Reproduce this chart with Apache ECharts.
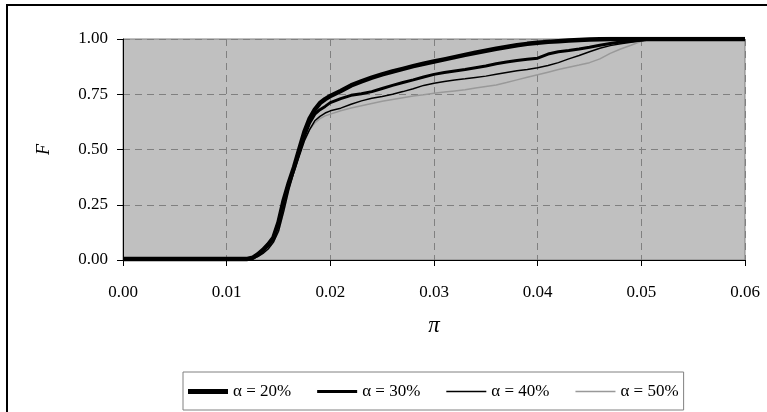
<!DOCTYPE html>
<html>
<head>
<meta charset="utf-8">
<script src="https://cdn.jsdelivr.net/npm/echarts@6/dist/echarts.min.js"></script>
<style>
  html, body { margin: 0; padding: 0; background: #fff; }
  #main { width: 767px; height: 412px; }
</style>
</head>
<body>
<div id="main"></div>
<script>
// pi values (x) shared by all curves
var pi = [0, 0.012, 0.0125, 0.013, 0.0135, 0.014, 0.0145, 0.015, 0.0155, 0.016, 0.0165, 0.017, 0.0175, 0.018, 0.0185, 0.019, 0.0195,
  0.020, 0.021, 0.022, 0.023, 0.024, 0.025, 0.026, 0.027, 0.028, 0.029,
  0.030, 0.031, 0.032, 0.033, 0.034, 0.035, 0.036, 0.037, 0.038, 0.039,
  0.040, 0.041, 0.042, 0.043, 0.044, 0.045, 0.046, 0.047, 0.048, 0.049,
  0.050, 0.051, 0.060]

var f20 = [0.005, 0.005, 0.01, 0.025, 0.045, 0.07, 0.10, 0.17, 0.27, 0.35, 0.42, 0.50, 0.58, 0.64, 0.68, 0.71, 0.728,
  0.742, 0.765, 0.79, 0.808, 0.825, 0.84, 0.853, 0.865, 0.877, 0.888,
  0.898, 0.908, 0.918, 0.928, 0.938, 0.947, 0.956, 0.964, 0.972, 0.978,
  0.983, 0.987, 0.99, 0.993, 0.996, 0.998, 0.999, 1, 1, 1,
  1, 1, 1]
var f30 = [0.005, 0.005, 0.01, 0.025, 0.045, 0.07, 0.10, 0.17, 0.27, 0.35, 0.42, 0.49, 0.56, 0.62, 0.66, 0.68, 0.695,
  0.712, 0.73, 0.745, 0.752, 0.762, 0.776, 0.79, 0.803, 0.815, 0.828,
  0.84, 0.848, 0.855, 0.862, 0.87, 0.878, 0.888, 0.896, 0.903, 0.908,
  0.913, 0.932, 0.942, 0.948, 0.955, 0.963, 0.972, 0.98, 0.986, 0.991,
  0.996, 1, 1]
var f40 = [0.005, 0.005, 0.005, 0.015, 0.03, 0.05, 0.08, 0.13, 0.22, 0.32, 0.40, 0.47, 0.54, 0.59, 0.63, 0.65, 0.665,
  0.675, 0.687, 0.705, 0.72, 0.732, 0.74, 0.75, 0.762, 0.775, 0.79,
  0.8, 0.808, 0.815, 0.82, 0.826, 0.832, 0.84, 0.848, 0.856, 0.862,
  0.87, 0.88, 0.893, 0.91, 0.925, 0.942, 0.958, 0.97, 0.978, 0.985,
  0.992, 1, 1]
var f50 = [0.005, 0.005, 0.005, 0.015, 0.03, 0.05, 0.08, 0.13, 0.22, 0.32, 0.40, 0.47, 0.54, 0.59, 0.62, 0.64, 0.652,
  0.66, 0.675, 0.688, 0.698, 0.708, 0.718, 0.726, 0.734, 0.742, 0.748,
  0.755, 0.76, 0.765, 0.77, 0.778, 0.785, 0.792, 0.803, 0.815, 0.827,
  0.838, 0.85, 0.862, 0.872, 0.882, 0.893, 0.91, 0.935, 0.955, 0.972,
  0.99, 1, 1]

var names = ['α = 20%', 'α = 30%', 'α = 40%', 'α = 50%']
var curves = [f20, f30, f40, f50]
var widths = [4.5, 3, 1.5, 1.5]
var colors = ['#000', '#000', '#000', '#999']

var serif = '"Liberation Serif", "DejaVu Serif", serif'

function pairs (ys) {
  return pi.map(function (x, i) { return [x, ys[i]] })
}

// legend icon: a bar of thickness t centred in a 40x14 box
function lineIcon (t) {
  var a = 7 - t / 2
  var b = 7 + t / 2
  return 'path://M0,0L0.01,0L0,0.01Z M0,' + a + 'L40,' + a + 'L40,' + b + 'L0,' + b + 'Z M40,14L39.99,14L40,13.99Z'
}

var myChart = echarts.init(document.getElementById('main'), null, { renderer: 'canvas' })

myChart.setOption({
  animation: false,
  backgroundColor: '#fff',
  graphic: [{
    type: 'rect',
    shape: { x: 7, y: 5, width: 800, height: 440 },
    style: { fill: 'none', stroke: '#000', lineWidth: 2 },
    silent: true
  }],
  grid: {
    left: 123,
    right: 22,
    top: 39,
    bottom: 152,
    show: true,
    backgroundColor: '#c0c0c0',
    borderColor: '#808080',
    borderWidth: 1
  },
  legend: {
    left: 183,
    top: 372,
    orient: 'horizontal',
    padding: [11, 5, 10, 5],
    itemGap: 26,
    itemWidth: 40,
    itemHeight: 14,
    borderColor: '#808080',
    borderWidth: 1,
    backgroundColor: '#fff',
    itemStyle: { borderWidth: 0 },
    lineStyle: { width: 0 },
    textStyle: { fontFamily: serif, fontSize: 17, color: '#000' },
    data: names.map(function (n, i) {
      return { name: n, icon: lineIcon(i === 0 ? 5 : i === 1 ? 3 : 1.5), itemStyle: { color: colors[i] } }
    })
  },
  xAxis: {
    type: 'value',
    min: 0,
    max: 0.06,
    interval: 0.01,
    name: 'π',
    nameLocation: 'middle',
    nameGap: 54,
    nameTextStyle: { fontFamily: serif, fontStyle: 'italic', fontSize: 23, color: '#000' },
    axisLine: { show: true, onZero: false, lineStyle: { color: '#000', width: 1 } },
    axisTick: { show: true, inside: false, length: 6, lineStyle: { color: '#000' } },
    axisLabel: {
      margin: 24,
      fontFamily: serif,
      fontSize: 17,
      color: '#000',
      formatter: function (v) { return v.toFixed(2) }
    },
    splitLine: { show: true, lineStyle: { color: '#808080', type: [7, 5], width: 1 } }
  },
  yAxis: {
    type: 'value',
    min: 0,
    max: 1,
    interval: 0.25,
    name: 'F',
    nameLocation: 'middle',
    nameGap: 70,
    nameTextStyle: { fontFamily: serif, fontStyle: 'italic', fontSize: 18, color: '#000' },
    axisLine: { show: true, onZero: false, lineStyle: { color: '#000', width: 1 } },
    axisTick: { show: true, inside: false, length: 6, lineStyle: { color: '#000' } },
    axisLabel: {
      margin: 15,
      fontFamily: serif,
      fontSize: 17,
      color: '#000',
      formatter: function (v) { return v.toFixed(2) }
    },
    splitLine: { show: true, lineStyle: { color: '#808080', type: [7, 5], width: 1 } }
  },
  series: names.map(function (n, i) {
    return {
      name: n,
      type: 'line',
      data: pairs(curves[i]),
      showSymbol: false,
      symbol: 'none',
      z: 10 - i,
      lineStyle: { color: colors[i], width: widths[i] },
      itemStyle: { color: colors[i] }
    }
  })
})
</script>
</body>
</html>
